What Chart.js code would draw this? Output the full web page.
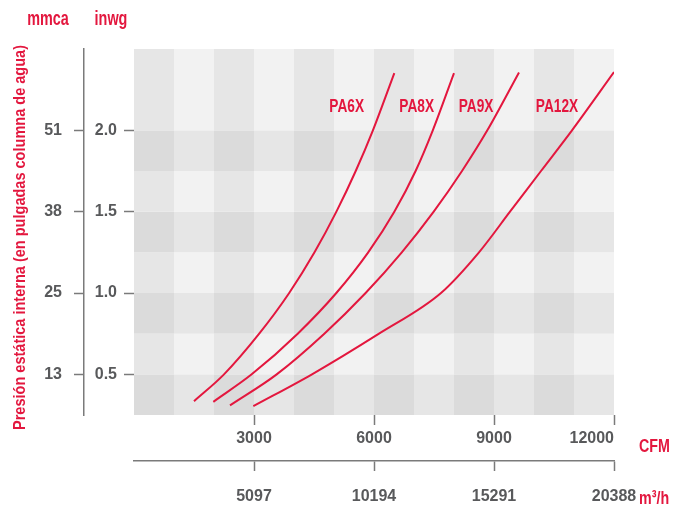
<!DOCTYPE html>
<html>
<head>
<meta charset="utf-8">
<script src="https://cdn.jsdelivr.net/npm/chart.js@4"></script>
<style>
  html, body { margin: 0; padding: 0; background: #fff; }
</style>
</head>
<body>
<canvas id="chart" width="685" height="508"></canvas>
<script>
// axis ticks
const cfmTicks = [0, 3000, 6000, 9000, 12000];
const m3hTicks = [5097, 10194, 15291, 20388];
const inwgTicks = [0.5, 1.0, 1.5, 2.0];
const mmcaLabels = ['13', '25', '38', '51'];

// background bands (CFM columns, inwg rows)
const colEdges = [0, 1000, 2000, 3000, 4000, 5000, 6000, 7000, 8000, 9000, 10000, 11000, 12000];
const rowEdges = [0.25, 0.5, 0.75, 1.0, 1.25, 1.5, 1.75, 2.0, 2.5];

// curves: [CFM, inwg]
const seriesNames = ['PA6X', 'PA8X', 'PA9X', 'PA12X'];
const pa6x = [[1500, 0.335], [2250, 0.5], [3130, 0.75], [3880, 1.0], [4513, 1.25], [5060, 1.5], [5543, 1.75], [5973, 2.0], [6508, 2.352]];
const pa8x = [[1983, 0.331], [2942, 0.5], [4093, 0.75], [5058, 1.0], [5855, 1.25], [6508, 1.5], [7040, 1.75], [7470, 2.0], [8000, 2.352]];
const pa9x = [[2400, 0.309], [3567, 0.5], [4758, 0.75], [5790, 1.0], [6695, 1.25], [7493, 1.5], [8200, 1.75], [8833, 2.0], [9625, 2.356]];
const pa12x = [[2983, 0.304], [4450, 0.5], [6125, 0.75], [7675, 1.0], [8625, 1.25], [9400, 1.5], [10175, 1.75], [10950, 2.0], [12000, 2.358]];

// where the curve names sit (centre x, baseline y), in data units
const nameX = [5317, 7067, 8550, 10575];
const nameY = 2.11;

const RED = '#e3173e';
const GREY = '#58595b';
const LINE = '#7a7a7a';
const FONT = "'Liberation Sans', Arial, sans-serif";

Chart.defaults.font.family = FONT;
Chart.defaults.font.weight = 'bold';
Chart.defaults.font.size = 16;
Chart.defaults.color = GREY;

const toPts = arr => arr.map(p => ({ x: p[0], y: p[1] }));

// narrow bold text, to look like the condensed face of the original
function narrowText(ctx, text, x, y, size, sx, align) {
  ctx.save();
  ctx.font = 'bold ' + size + 'px ' + FONT;
  ctx.textBaseline = 'alphabetic';
  ctx.textAlign = 'left';
  const w = ctx.measureText(text).width * sx;
  const x0 = align === 'center' ? x - w / 2 : align === 'right' ? x - w : x;
  ctx.translate(x0, y);
  ctx.scale(sx, 1);
  ctx.fillText(text, 0, 0);
  ctx.restore();
}

const checker = {
  id: 'checker',
  beforeDraw(chart) {
    const { ctx, scales: { x, y } } = chart;
    ctx.save();
    for (let i = 0; i < colEdges.length - 1; i++) {
      for (let j = 0; j < rowEdges.length - 1; j++) {
        const dark = (i % 2 === 0) + (j % 2 === 0);
        ctx.fillStyle = dark === 2 ? '#dbdbdb' : dark === 1 ? '#e6e6e6' : '#f2f2f2';
        const x0 = x.getPixelForValue(colEdges[i]);
        const x1 = x.getPixelForValue(colEdges[i + 1]);
        const y0 = y.getPixelForValue(rowEdges[j + 1]);
        const y1 = y.getPixelForValue(rowEdges[j]);
        ctx.fillRect(x0, y0, x1 - x0, y1 - y0);
      }
    }
    ctx.restore();
  }
};

const texts = {
  id: 'texts',
  afterDraw(chart) {
    const { ctx, scales: { x, y } } = chart;
    ctx.save();
    ctx.fillStyle = RED;
    seriesNames.forEach((n, i) => {
      narrowText(ctx, n, x.getPixelForValue(nameX[i]), y.getPixelForValue(nameY), 19, 0.72, 'center');
    });
    narrowText(ctx, 'mmca', 48, 24.5, 20, 0.72, 'center');
    narrowText(ctx, 'inwg', 111, 24.5, 20, 0.72, 'center');
    narrowText(ctx, 'CFM', 639, 452, 19, 0.75, 'left');
    narrowText(ctx, 'm³/h', 639, 504, 19, 0.75, 'left');

    // rotated axis title
    const title = 'Presión estática interna (en pulgadas columna de agua)';
    ctx.font = 'bold 17px ' + FONT;
    const sx = 385 / ctx.measureText(title).width;
    ctx.translate(25, 237.5);
    ctx.rotate(-Math.PI / 2);
    ctx.scale(sx, 1);
    ctx.textAlign = 'center';
    ctx.textBaseline = 'alphabetic';
    ctx.fillText(title, 0, 0);
    ctx.restore();
  }
};

const mk = (label, pts) => ({
  label,
  data: toPts(pts),
  borderColor: RED,
  borderWidth: 2,
  pointRadius: 0,
  fill: false,
  cubicInterpolationMode: 'monotone'
});

new Chart(document.getElementById('chart'), {
  type: 'line',
  data: {
    datasets: [mk('PA6X', pa6x), mk('PA8X', pa8x), mk('PA9X', pa9x), mk('PA12X', pa12x)]
  },
  options: {
    responsive: false,
    animation: false,
    layout: { padding: { top: 49, right: 71, left: 0, bottom: 0 } },
    plugins: { legend: { display: false }, tooltip: { enabled: false } },
    scales: {
      x: {
        type: 'linear', position: 'bottom', weight: 0,
        min: 0, max: 12000,
        afterBuildTicks: s => { s.ticks = cfmTicks.map(v => ({ value: v })); },
        afterFit: s => { s.height = 46; },
        border: { display: false },
        grid: {
          drawOnChartArea: false, tickLength: 10, tickWidth: 1.5,
          tickColor: c => c.tick && c.tick.value === 0 ? 'rgba(0,0,0,0)' : LINE
        },
        ticks: { align: 'inner', padding: 4, maxRotation: 0, callback: v => v === 0 ? '' : String(v) }
      },
      x2: {
        type: 'linear', position: 'bottom', weight: 1,
        min: 0, max: 20388,
        afterBuildTicks: s => { s.ticks = m3hTicks.map(v => ({ value: v })); },
        afterFit: s => { s.height = 47; },
        border: { display: true, color: LINE, width: 1.5 },
        grid: { drawOnChartArea: false, tickLength: 10, tickWidth: 1.5, tickColor: LINE },
        ticks: { padding: 16, maxRotation: 0, callback: v => String(v) }
      },
      y: {
        type: 'linear', position: 'left', weight: 0,
        min: 0.25, max: 2.5,
        afterBuildTicks: s => { s.ticks = inwgTicks.map(v => ({ value: v })); },
        afterFit: s => { s.width = 50; },
        border: { display: false },
        grid: { drawOnChartArea: false, tickLength: 10, tickWidth: 1.5, tickColor: LINE },
        ticks: { padding: 7, callback: v => v.toFixed(1) }
      },
      y2: {
        type: 'linear', position: 'left', weight: 1,
        min: 0.25, max: 2.5,
        afterBuildTicks: s => { s.ticks = inwgTicks.map(v => ({ value: v })); },
        afterFit: s => { s.width = 84; },
        border: { display: true, color: LINE, width: 1.5 },
        grid: { drawOnChartArea: false, tickLength: 10, tickWidth: 1.5, tickColor: LINE },
        ticks: { padding: 12, callback: v => mmcaLabels[inwgTicks.indexOf(v)] }
      }
    }
  },
  plugins: [checker, texts]
});
</script>
</body>
</html>
